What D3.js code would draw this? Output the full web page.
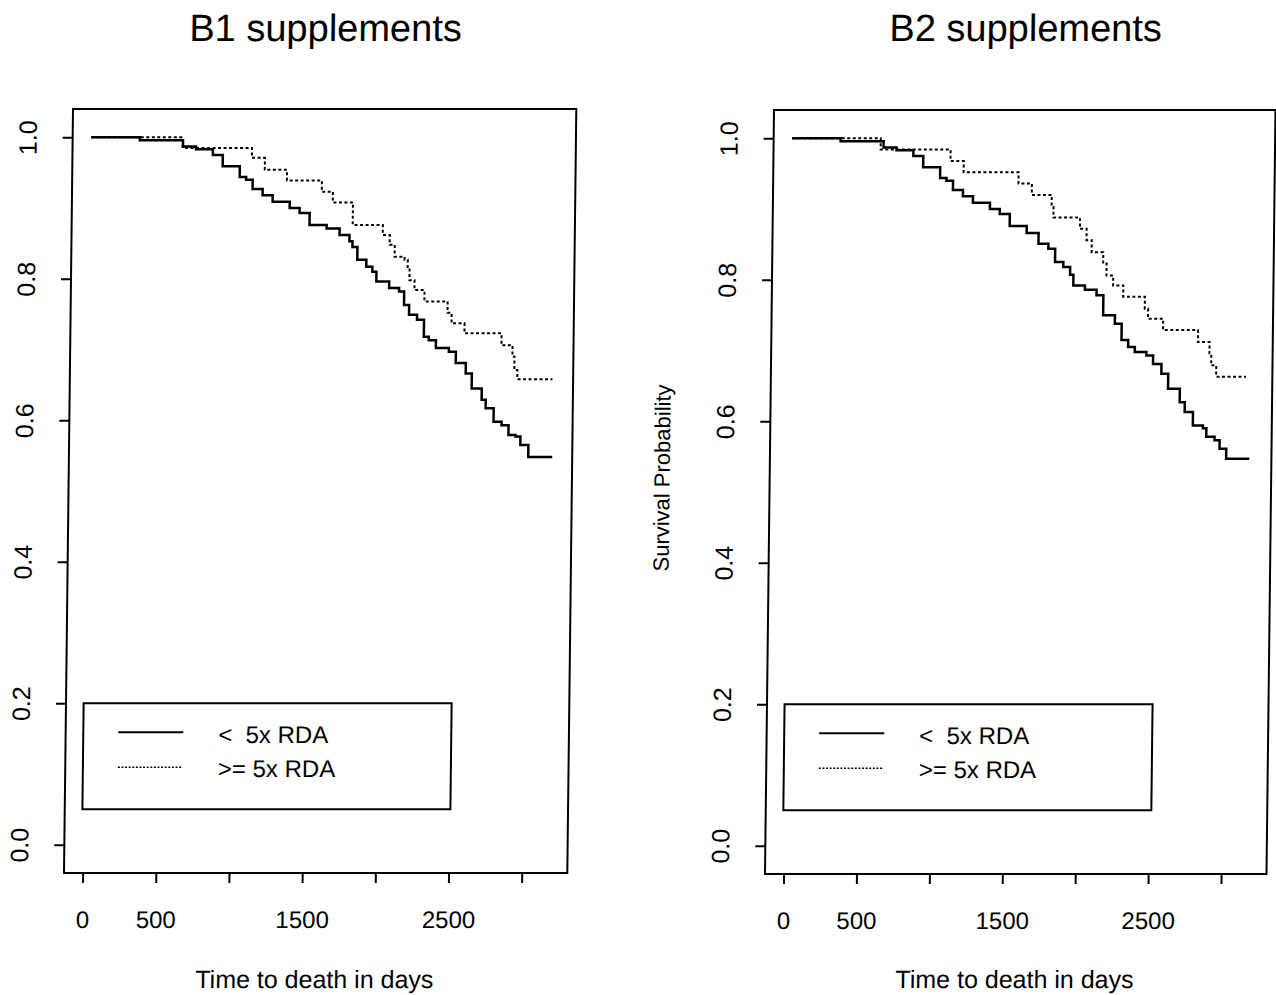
<!DOCTYPE html>
<html>
<head>
<meta charset="utf-8">
<script src="https://cdn.jsdelivr.net/npm/d3@7"></script>
<style>
  body { margin: 0; background: #fff; }
  svg { display: block; }
  text { font-family: "Liberation Sans", Arial, Helvetica, sans-serif; fill: #000; }
</style>
</head>
<body>
<svg id="chart" width="1276" height="995"></svg>
<script>
// Kaplan-Meier curves (days, survival)
const xTicks = [0, 500, 1000, 1500, 2000, 2500, 3000];
const xTickLabels = [0, 500, 1500, 2500]; // R dropped the overlapping ones
const yTicks = [0, 0.2, 0.4, 0.6, 0.8, 1.0];
const groupLabels = ["<  5x RDA", ">= 5x RDA"];
const panelTitles = ["B1 supplements", "B2 supplements"];

const b1LowTime = [0, 332, 627, 716, 832, 900, 1017, 1061, 1106, 1175, 1244, 1361, 1429, 1498, 1615, 1704, 1772, 1793, 1827, 1889, 1931, 1959, 2047, 2115, 2150, 2185, 2240, 2288, 2322, 2371, 2460, 2508, 2577, 2619, 2688, 2716, 2771, 2826, 2874, 2922, 2956, 3011, 3175];
const b1LowSurv = [1, 0.996, 0.987, 0.983, 0.975, 0.959, 0.944, 0.940, 0.927, 0.918, 0.909, 0.900, 0.893, 0.876, 0.871, 0.862, 0.853, 0.845, 0.827, 0.817, 0.810, 0.796, 0.787, 0.782, 0.763, 0.749, 0.742, 0.718, 0.713, 0.702, 0.697, 0.681, 0.666, 0.645, 0.629, 0.617, 0.598, 0.593, 0.579, 0.577, 0.565, 0.548, 0.548];

const b1HighTime = [0, 625, 1099, 1188, 1340, 1579, 1655, 1793, 1999, 2047, 2082, 2150, 2172, 2185, 2220, 2289, 2448, 2476, 2565, 2819, 2895, 2909, 2930, 3170];
const b1HighSurv = [1, 0.985, 0.971, 0.954, 0.939, 0.923, 0.908, 0.876, 0.862, 0.848, 0.831, 0.827, 0.815, 0.798, 0.784, 0.768, 0.752, 0.737, 0.723, 0.706, 0.690, 0.671, 0.658, 0.658];

const b2LowTime = [0, 332, 627, 716, 832, 900, 1017, 1061, 1106, 1175, 1244, 1361, 1429, 1498, 1615, 1697, 1765, 1812, 1869, 1916, 1939, 2019, 2099, 2146, 2227, 2274, 2320, 2366, 2446, 2492, 2550, 2597, 2678, 2713, 2770, 2839, 2863, 2920, 2955, 3001, 3160];
const b2LowSurv = [1, 0.996, 0.987, 0.983, 0.975, 0.959, 0.944, 0.940, 0.927, 0.918, 0.909, 0.900, 0.893, 0.876, 0.866, 0.851, 0.844, 0.825, 0.818, 0.807, 0.792, 0.786, 0.778, 0.750, 0.738, 0.715, 0.705, 0.698, 0.693, 0.681, 0.667, 0.646, 0.627, 0.613, 0.594, 0.590, 0.578, 0.573, 0.561, 0.547, 0.547];

const b2HighTime = [0, 607, 1087, 1178, 1555, 1647, 1784, 1797, 1980, 2026, 2062, 2142, 2166, 2212, 2282, 2431, 2454, 2558, 2798, 2878, 2891, 2926, 3131];
const b2HighSurv = [1, 0.984, 0.968, 0.952, 0.936, 0.920, 0.903, 0.888, 0.872, 0.856, 0.839, 0.823, 0.806, 0.792, 0.776, 0.759, 0.745, 0.729, 0.712, 0.696, 0.679, 0.663, 0.663];

const xMax = 3184;
const skew = 0.01178; // the scan leans a bit, left edge drifts ~9px over the height

const svg = d3.select("#chart");
svg.append("rect").attr("width", 1276).attr("height", 995).attr("fill", "#fff");

function zip(t, s) { return t.map((d, i) => ({ t: d, s: s[i] })); }

function drawPanel(p) {
  const x = d3.scaleLinear().domain([-0.04 * xMax, 1.04 * xMax]).range([p.left, p.right]);
  const y = d3.scaleLinear().domain([-0.04, 1.04]).range([p.bottom, p.top]);

  const g = svg.append("g")
    .attr("transform", `translate(${skew * p.bottom},0) skewX(${-Math.atan(skew) * 180 / Math.PI})`);

  // title
  g.append("text")
    .attr("x", (p.left + p.right) / 2).attr("y", 41)
    .attr("text-anchor", "middle").attr("font-size", 38)
    .text(p.title);

  // box
  g.append("rect")
    .attr("x", p.left).attr("y", p.top)
    .attr("width", p.right - p.left).attr("height", p.bottom - p.top)
    .attr("fill", "none").attr("stroke", "#000").attr("stroke-width", 2);

  // x axis
  const xa = g.append("g").attr("transform", `translate(0,${p.bottom})`)
    .call(d3.axisBottom(x).tickValues(xTicks).tickSize(10)
      .tickFormat(d => xTickLabels.includes(d) ? d : ""));
  xa.select(".domain").remove();
  xa.selectAll("line").attr("stroke", "#000").attr("stroke-width", 2);
  xa.selectAll("text").attr("y", 55).attr("dy", null)
    .attr("font-size", 24).attr("font-family", null).attr("fill", "#000");

  // y axis
  const ya = g.append("g").attr("transform", `translate(${p.left},0)`)
    .call(d3.axisLeft(y).tickValues(yTicks).tickSize(10).tickFormat(d3.format(".1f")));
  ya.select(".domain").remove();
  ya.selectAll("line").attr("stroke", "#000").attr("stroke-width", 2);
  ya.selectAll("text")
    .attr("x", null).attr("dy", null)
    .attr("transform", "translate(-36,0) rotate(-90)")
    .attr("text-anchor", "middle")
    .attr("font-size", 25).attr("font-family", null).attr("fill", "#000");

  // x label
  g.append("text")
    .attr("x", (p.left + p.right) / 2).attr("y", 988)
    .attr("text-anchor", "middle").attr("font-size", 25)
    .text("Time to death in days");

  if (p.ylab) {
    g.append("text")
      .attr("transform", `translate(${p.left - 100},478) rotate(-90)`)
      .attr("text-anchor", "middle").attr("font-size", 22)
      .text(p.ylab);
  }

  const line = d3.line().x(d => x(d.t)).y(d => y(d.s)).curve(d3.curveStepAfter);

  g.append("path").datum(zip(p.lowTime, p.lowSurv))
    .attr("d", line).attr("fill", "none")
    .attr("stroke", "#000").attr("stroke-width", 2.5);

  g.append("path").datum(zip(p.highTime, p.highSurv))
    .attr("d", line).attr("fill", "none")
    .attr("stroke", "#000").attr("stroke-width", 2)
    .attr("stroke-dasharray", "3,2.5");

  // legend, anchored at (0, 0.2) like legend(0, 0.2, ...)
  const lx = x(0) - 1, ly = y(0.2);
  const lg = g.append("g").attr("transform", `translate(${lx},${ly})`);
  lg.append("rect").attr("width", 368).attr("height", 106)
    .attr("fill", "none").attr("stroke", "#000").attr("stroke-width", 2);
  groupLabels.forEach((lab, i) => {
    lg.append("line")
      .attr("x1", 35).attr("x2", 100)
      .attr("y1", 29 + i * 35).attr("y2", 29 + i * 35)
      .attr("stroke", "#000")
      .attr("stroke-width", i === 0 ? 2 : 1.6)
      .attr("stroke-dasharray", i === 0 ? null : "2,1.6");
    lg.append("text")
      .attr("x", 135).attr("y", 40 + i * 34)
      .attr("font-size", 24)
      .attr("xml:space", "preserve")
      .style("white-space", "pre")
      .text(lab);
  });
}

drawPanel({
  title: panelTitles[0], left: 64, right: 567.3, top: 109, bottom: 873,
  lowTime: b1LowTime, lowSurv: b1LowSurv, highTime: b1HighTime, highSurv: b1HighSurv
});
drawPanel({
  title: panelTitles[1], left: 765, right: 1266.5, top: 110, bottom: 874,
  lowTime: b2LowTime, lowSurv: b2LowSurv, highTime: b2HighTime, highSurv: b2HighSurv,
  ylab: "Survival Probability"
});
</script>
</body>
</html>
